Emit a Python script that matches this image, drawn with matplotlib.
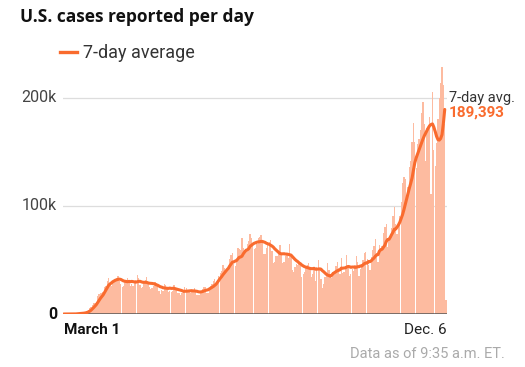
import matplotlib.pyplot as plt
import pandas as pd

# Casos diários (milhares), semanas de domingo a sábado, a partir de 1 de março
casos_diarios = [
    0.0, 0.0, 0.0, 0.0, 0.1, 0.1, 0.1,
    0.1, 0.2, 0.2, 0.3, 0.4, 0.6, 0.8,
    0.8, 1.0, 1.6, 2.5, 4.0, 5.3, 6.4,
    8.2, 9.8, 10.1, 11.5, 16.8, 18.2, 19.6,
    19.5, 20.6, 25.0, 26.1, 30.2, 33.0, 28.5,
    25.6, 29.6, 30.8, 31.0, 33.4, 34.8, 30.4,
    27.4, 25.1, 26.2, 29.9, 31.6, 33.5, 28.7,
    26.0, 27.5, 26.0, 28.8, 31.9, 36.2, 32.9,
    26.8, 24.0, 24.7, 29.2, 31.4, 33.8, 29.4,
    25.1, 23.5, 24.3, 25.9, 29.6, 28.5, 25.8,
    20.9, 18.8, 22.1, 21.0, 27.5, 27.0, 24.8,
    20.4, 21.3, 20.8, 21.6, 27.1, 24.4, 22.1,
    19.7, 19.4, 17.8, 19.5, 22.2, 24.8, 24.4,
    20.6, 20.6, 19.5, 20.1, 21.2, 24.3, 22.4,
    17.7, 17.6, 17.8, 21.2, 22.9, 24.6, 25.1,
    19.4, 19.1, 23.4, 25.9, 27.4, 30.5, 32.3,
    26.9, 31.7, 35.2, 37.6, 39.8, 45.7, 42.2,
    40.6, 41.5, 44.1, 51.1, 54.8, 56.6, 46.0,
    44.6, 48.0, 61.0, 60.1, 58.9, 70.0, 61.5,
    59.3, 59.4, 64.9, 67.8, 74.2, 70.4, 63.6,
    60.0, 61.4, 64.7, 70.3, 71.2, 73.3, 66.6,
    55.6, 55.9, 61.3, 67.1, 67.1, 68.2, 58.0,
    46.9, 48.6, 53.6, 53.4, 57.2, 63.7, 55.6,
    47.5, 48.0, 53.3, 54.4, 51.5, 64.6, 55.5,
    41.0, 38.6, 43.6, 46.1, 45.7, 48.4, 44.5,
    34.7, 37.0, 38.5, 43.7, 45.1, 46.9, 43.2,
    33.8, 36.6, 41.0, 30.1, 43.9, 50.4, 41.0,
    32.0, 24.0, 27.8, 34.1, 35.3, 47.1, 40.8,
    34.1, 33.3, 38.7, 38.9, 44.5, 48.0, 42.3,
    37.3, 51.9, 38.0, 39.1, 44.9, 54.9, 44.2,
    35.4, 37.1, 41.8, 40.0, 45.4, 54.1, 48.2,
    35.3, 41.4, 43.8, 50.3, 56.6, 57.7, 51.1,
    45.4, 40.7, 52.5, 59.3, 63.0, 69.3, 56.8,
    48.4, 64.1, 61.0, 62.6, 75.4, 80.8, 83.1,
    61.9, 67.9, 73.8, 79.3, 91.0, 99.0, 83.6,
    74.2, 84.6, 91.0, 104.0, 121.0, 127.0, 125.0,
    104.0, 118.0, 136.0, 142.0, 159.0, 177.0, 159.0,
    135.0, 157.0, 162.0, 170.0, 186.0, 196.0, 176.0,
    142.0, 172.0, 174.0, 182.0, 111.0, 206.0, 152.0,
    137.0, 158.0, 181.0, 200.0, 214.0, 229.0, 212.0,
    176.0, 13.0,
]

# Média de 7 dias (milhares), até 6 de dezembro
media_7d = [
    0.0, 0.0, 0.0, 0.0, 0.0, 0.0, 0.1,
    0.1, 0.1, 0.1, 0.2, 0.3, 0.4, 0.5,
    0.6, 0.8, 1.0, 1.3, 1.9, 2.5, 3.4,
    4.6, 5.9, 7.3, 8.7, 10.6, 12.6, 14.5,
    16.1, 17.7, 19.9, 22.0, 24.3, 26.5, 27.8,
    28.7, 29.8, 30.6, 31.3, 31.7, 32.1, 32.3,
    32.0, 31.3, 30.6, 30.3, 30.1, 29.9, 30.2,
    29.9, 30.2, 30.0, 29.8, 29.5, 29.9, 30.2,
    30.3, 29.8, 29.4, 29.4, 29.4, 29.3, 28.8,
    28.5, 28.4, 28.3, 28.0, 27.8, 27.1, 26.7,
    26.0, 25.2, 24.9, 24.3, 24.1, 23.9, 23.8,
    23.7, 24.0, 23.7, 23.8, 23.8, 23.4, 23.0,
    22.7, 22.4, 22.0, 21.6, 21.0, 21.0, 21.1,
    21.2, 21.3, 21.5, 21.6, 21.4, 21.4, 21.2,
    21.0, 20.6, 20.4, 20.5, 20.8, 21.3, 21.8,
    22.1, 22.4, 23.2, 24.0, 24.8, 25.5, 26.6,
    27.6, 29.4, 31.3, 33.0, 34.5, 36.3, 37.9,
    39.5, 41.0, 42.3, 44.5, 46.3, 48.0, 48.3,
    49.0, 49.5, 51.0, 52.5, 52.8, 53.5, 55.8,
    57.5, 59.0, 59.5, 60.5, 62.8, 63.6, 64.7,
    65.5, 66.0, 66.5, 66.8, 66.9, 67.2, 67.2,
    66.8, 66.3, 65.5, 65.0, 64.5, 63.8, 63.0,
    62.0, 60.5, 59.3, 58.0, 57.0, 56.0, 55.7,
    55.8, 55.8, 55.5, 55.5, 55.2, 55.0, 54.6,
    53.2, 51.8, 50.5, 49.4, 48.5, 47.3, 46.5,
    45.3, 44.5, 43.8, 43.4, 43.0, 42.6, 42.2,
    42.0, 42.0, 42.3, 41.5, 41.5, 41.7, 41.8,
    41.6, 40.2, 39.2, 38.0, 36.8, 36.0, 35.5,
    35.0, 36.0, 37.5, 38.3, 39.2, 40.0, 40.5,
    40.9, 42.5, 42.4, 42.6, 42.8, 43.5, 44.0,
    43.8, 43.2, 43.5, 43.5, 43.2, 43.3, 43.8,
    43.8, 44.5, 44.4, 45.5, 46.7, 47.2, 47.1,
    48.6, 48.4, 49.3, 50.7, 51.8, 53.5, 54.7,
    55.0, 58.2, 59.5, 60.0, 61.8, 63.7, 67.0,
    68.9, 69.0, 71.1, 73.6, 75.8, 78.5, 78.7,
    80.5, 82.5, 85.0, 88.5, 92.0, 96.5, 101.5,
    106.5, 111.5, 116.5, 121.0, 126.0, 133.0, 140.0,
    144.5, 148.0, 151.5, 155.0, 158.5, 162.0, 165.0,
    167.5, 170.0, 172.5, 174.5, 175.5, 176.0, 173.0,
    169.0, 164.5, 161.5, 161.0, 162.5, 166.0, 176.5,
    189.393,
]

datas = pd.date_range("2020-03-01", "2020-12-07", freq="D")
rotulos_x = ["March 1", "Dec. 6"]
ticks_y = [0, 100, 200]
rotulos_y = ["0", "100k", "200k"]

cor_barra = "#fdbba0"
cor_linha = "#f96b2e"
fonte = "Roboto"

fig = plt.figure(figsize=(5.25, 3.67), dpi=100)
ax = fig.add_axes([0.12, 0.1444, 0.731, 0.6916])

dias = list(range(len(datas)))
ax.bar(dias, casos_diarios, width=0.96, color=cor_barra, linewidth=0, zorder=1)
ax.plot(dias[:len(media_7d)], media_7d, color=cor_linha, lw=2.2,
        solid_capstyle="round", zorder=3)

ax.set_xlim(-0.5, len(datas) - 0.5)
ax.set_ylim(0, 235)

# grade e linha de base
for y in ticks_y[1:]:
    ax.axhline(y, color="#dddddd", lw=0.9, zorder=0)
ax.axhline(0, color="#555555", lw=1.8, zorder=2)

for s in ax.spines.values():
    s.set_visible(False)
ax.set_xticks([])
ax.set_yticks([])

# rótulos do eixo y
for y, lab in zip(ticks_y, rotulos_y):
    peso = "bold" if lab == "0" else "normal"
    cor = "#111111" if lab == "0" else "#444444"
    ax.text(-5, y, lab, ha="right", va="center", fontsize=11.5,
            fontweight=peso, color=cor, family=fonte)

# rótulos do eixo x
ax.text(0.5, -8, rotulos_x[0], ha="left", va="top", fontsize=11,
        fontweight="bold", color="#111111", family=fonte)
ax.text(len(datas) - 0.3, -8, rotulos_x[1], ha="right", va="top", fontsize=11,
        color="#222222", family=fonte)

# anotação do último valor
ult = len(media_7d) - 1
ax.text(ult + 3, 200, "7-day avg.", ha="left", va="center", fontsize=10.5,
        color="#333333", family=fonte, clip_on=False)
ax.text(ult + 3, 189.4 - 3, f"{media_7d[-1] * 1000:,.0f}", ha="left", va="center",
        fontsize=11, fontweight="bold", color=cor_linha, family=fonte, clip_on=False)

# título, legenda e nota
fig.text(0.038, 0.953, "U.S. cases reported per day", ha="left", va="center",
         fontsize=12.5, fontweight="bold", color="#111111", family="Open Sans")
fig.lines.append(plt.Line2D([0.114, 0.147], [0.858, 0.858], color=cor_linha, lw=2.4,
                            transform=fig.transFigure))
fig.text(0.158, 0.856, "7-day average", ha="left", va="center", fontsize=13,
         color="#333333", family=fonte)
fig.text(0.962, 0.035, "Data as of 9:35 a.m. ET.", ha="right", va="center",
         fontsize=10.5, color="#aaaaaa", family=fonte)

fig.savefig("out.png", dpi=100)
